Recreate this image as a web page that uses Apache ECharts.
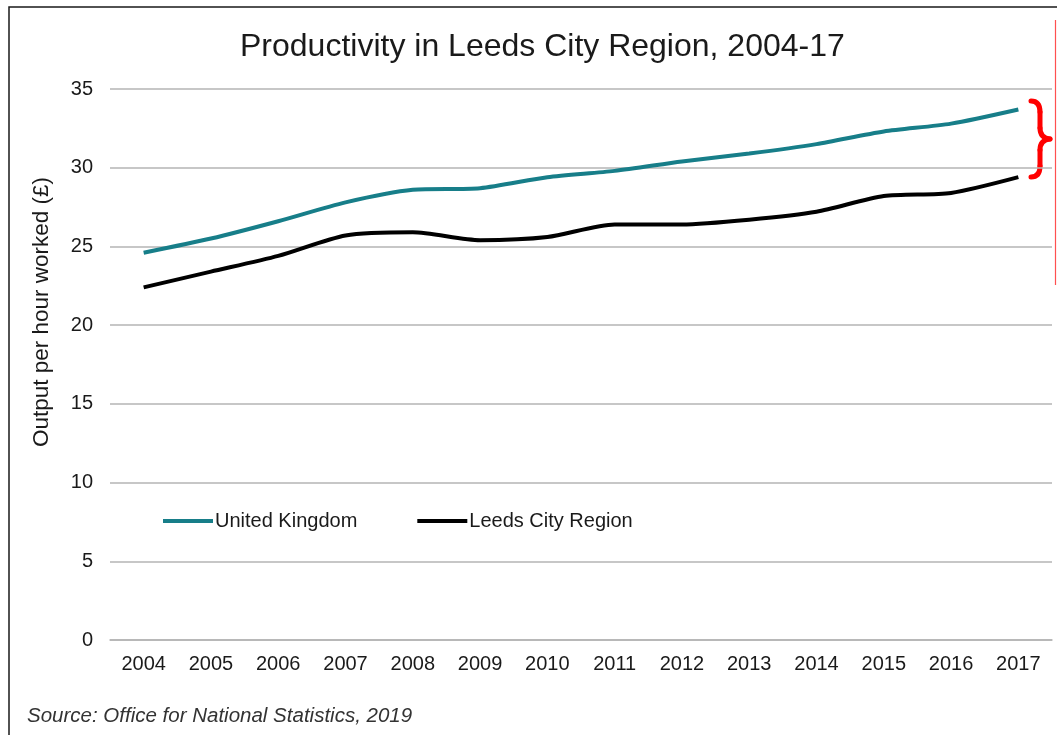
<!DOCTYPE html>
<html>
<head>
<meta charset="utf-8">
<script src="https://cdn.jsdelivr.net/npm/echarts@6/dist/echarts.min.js"></script>
<style>html,body{margin:0;padding:0;background:#fff;}#main{width:1057px;height:735px;}</style>
</head>
<body>
<div id="main"></div>
<script>
var years = ['2004','2005','2006','2007','2008','2009','2010','2011','2012','2013','2014','2015','2016','2017'];
var ukValues = [24.6, 25.5, 26.6, 27.8, 28.6, 28.7, 29.4, 29.8, 30.4, 30.9, 31.5, 32.3, 32.8, 33.7];
var leedsValues = [22.4, 23.4, 24.4, 25.7, 25.9, 25.4, 25.6, 26.4, 26.4, 26.7, 27.2, 28.2, 28.4, 29.4];
var seriesNames = ['United Kingdom', 'Leeds City Region'];
var titleText = 'Productivity in Leeds City Region, 2004-17';
var yAxisTitle = 'Output per hour worked (£)';
var sourceText = 'Source: Office for National Statistics, 2019';

var FONT = '"Liberation Sans", Arial, sans-serif';
var RED = '#ff0000';
var braceStyle = {stroke: RED, lineWidth: 5, fill: null, lineCap: 'round'};
var chart = echarts.init(document.getElementById('main'), null, {renderer: 'canvas'});
chart.setOption({
  animation: false,
  backgroundColor: '#ffffff',
  title: {
    text: titleText,
    left: 235,
    top: 26,
    textStyle: {fontFamily: FONT, fontSize: 32, fontWeight: 'normal', color: '#1a1a1a'}
  },
  legend: {
    left: 158,
    top: 504,
    itemWidth: 50,
    itemHeight: 4,
    itemGap: 60,
    icon: 'rect',
    textStyle: {fontFamily: FONT, fontSize: 20, color: '#1a1a1a', lineHeight: 24, padding: [0, 0, 0, -3]},
    data: seriesNames
  },
  grid: {left: 110, right: 5, top: 89, bottom: 95, containLabel: false},
  xAxis: {
    type: 'category',
    data: years,
    boundaryGap: true,
    axisLine: {show: true, lineStyle: {color: '#b4b4b4', width: 1.5}},
    axisTick: {show: false},
    axisLabel: {fontFamily: FONT, fontSize: 20, color: '#1a1a1a', margin: 14}
  },
  yAxis: {
    type: 'value',
    min: 0,
    max: 35,
    interval: 5,
    axisLine: {show: false},
    axisTick: {show: false},
    axisLabel: {fontFamily: FONT, fontSize: 20, color: '#1a1a1a', margin: 17},
    splitLine: {lineStyle: {color: '#b4b4b4', width: 1.5}}
  },
  series: [
    {
      name: seriesNames[0], type: 'line', data: ukValues, smooth: 0.25,
      symbol: 'none', lineStyle: {color: '#177e89', width: 4}, itemStyle: {color: '#177e89'}
    },
    {
      name: seriesNames[1], type: 'line', data: leedsValues, smooth: 0.25,
      symbol: 'none', lineStyle: {color: '#000000', width: 4}, itemStyle: {color: '#000000'}
    }
  ],
  graphic: [
    {type: 'polyline', shape: {points: [[9, 740], [9, 7], [1060, 7]]}, style: {stroke: '#1a1a1a', lineWidth: 1.5, fill: null}},
    {type: 'line', shape: {x1: 1055.5, y1: 20, x2: 1055.5, y2: 285}, style: {stroke: '#ff5050', lineWidth: 1.2}},
    {type: 'bezierCurve', shape: {x1: 1031, y1: 101, x2: 1040, y2: 112, cpx1: 1040, cpy1: 101}, style: braceStyle},
    {type: 'line', shape: {x1: 1040, y1: 112, x2: 1040, y2: 128}, style: braceStyle},
    {type: 'bezierCurve', shape: {x1: 1040, y1: 128, x2: 1050, y2: 139, cpx1: 1040, cpy1: 138}, style: braceStyle},
    {type: 'bezierCurve', shape: {x1: 1050, y1: 139, x2: 1040, y2: 150, cpx1: 1040, cpy1: 140}, style: braceStyle},
    {type: 'line', shape: {x1: 1040, y1: 150, x2: 1040, y2: 166}, style: braceStyle},
    {type: 'bezierCurve', shape: {x1: 1040, y1: 166, x2: 1031, y2: 177, cpx1: 1040, cpy1: 177}, style: braceStyle},
    {type: 'text', left: 27, top: 706, style: {text: sourceText, font: 'italic 20.5px ' + FONT, fill: '#333333'}},
    {type: 'text', x: 42, y: 312, rotation: Math.PI / 2, style: {text: yAxisTitle, font: '22.5px ' + FONT, fill: '#1a1a1a', textAlign: 'center', textVerticalAlign: 'middle'}}
  ]
});
</script>
</body>
</html>
